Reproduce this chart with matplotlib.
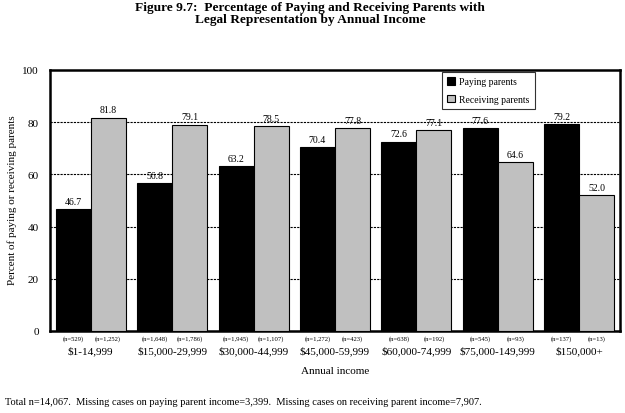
import matplotlib
matplotlib.use("Agg")
import matplotlib.pyplot as plt
import numpy as np

categories = ["$1-14,999", "$15,000-29,999", "$30,000-44,999", "$45,000-59,999",
              "$60,000-74,999", "$75,000-149,999", "$150,000+"]
paying = [46.7, 56.8, 63.2, 70.4, 72.6, 77.6, 79.2]
receiving = [81.8, 79.1, 78.5, 77.8, 77.1, 64.6, 52.0]
n_paying = ["529", "1,648", "1,945", "1,272", "638", "545", "137"]
n_receiving = ["1,252", "1,786", "1,107", "423", "192", "93", "13"]
yticks = [0, 20, 40, 60, 80, 100]

plt.rcParams['font.family'] = ['Liberation Serif', 'DejaVu Serif']

fig = plt.figure(figsize=(6.25, 4.14), dpi=100)
ax = fig.add_axes([50/625, 1-332/414, 570/625, 261/414])

x = np.arange(len(categories))
w = 0.43
ax.bar(x - w/2, paying, w, color='black', edgecolor='black', linewidth=0.8,
       label='Paying parents', zorder=3)
ax.bar(x + w/2, receiving, w, color='#c0c0c0', edgecolor='black', linewidth=0.8,
       label='Receiving parents', zorder=3)

for xi, v in zip(x - w/2, paying):
    ax.text(xi, v + 1.2, f"{v:.1f}", ha='center', va='bottom', fontsize=7, zorder=4)
for xi, v in zip(x + w/2, receiving):
    ax.text(xi, v + 1.2, f"{v:.1f}", ha='center', va='bottom', fontsize=7, zorder=4)

for yv in yticks[1:-1]:
    ax.axhline(yv, color='black', linestyle=(0, (2, 1)), linewidth=0.8, zorder=1)

ax.set_xlim(-0.5, len(categories) - 0.5)
ax.set_ylim(0, 100)
ax.set_yticks(yticks)
ax.set_yticklabels([str(t) for t in yticks], fontsize=8)
ax.tick_params(axis='y', length=0, pad=8)
ax.set_xticks([])
for s in ax.spines.values():
    s.set_linewidth(1.8)

for xi, a, b in zip(x, n_paying, n_receiving):
    ax.text(xi - w/2, -1.5, f"(n={a})", ha='center', va='top', fontsize=4.8,
            clip_on=False)
    ax.text(xi + w/2, -1.5, f"(n={b})", ha='center', va='top', fontsize=4.8,
            clip_on=False)
for xi, c in zip(x, categories):
    ax.text(xi, -5.5, c, ha='center', va='top', fontsize=8, clip_on=False)

fig.text(12/625, 1-200/414, "Percent of paying or receiving parents", rotation=90,
         ha='center', va='center', fontsize=8)
fig.text(335/625, 1-372/414, "Annual income", ha='center', va='center', fontsize=8)

leg = ax.legend(loc='upper left', bbox_to_anchor=((442-50)/570, 1-2/261),
                fontsize=7, frameon=True, fancybox=False, edgecolor='black',
                handlelength=0.8, handleheight=0.8, borderpad=0.55, labelspacing=0.85,
                handletextpad=0.4, borderaxespad=0)
leg.get_frame().set_linewidth(0.8)
leg.set_zorder(5)

fig.text(310/625, 1-14/414,
         "Figure 9.7:  Percentage of Paying and Receiving Parents with\nLegal Representation by Annual Income",
         ha='center', va='center', fontsize=9.6, fontweight='bold', linespacing=1.1)

fig.text(5/625, 1-403/414,
         "Total n=14,067.  Missing cases on paying parent income=3,399.  Missing cases on receiving parent income=7,907.",
         ha='left', va='center', fontsize=7.5)

fig.savefig("out.png", dpi=100)
